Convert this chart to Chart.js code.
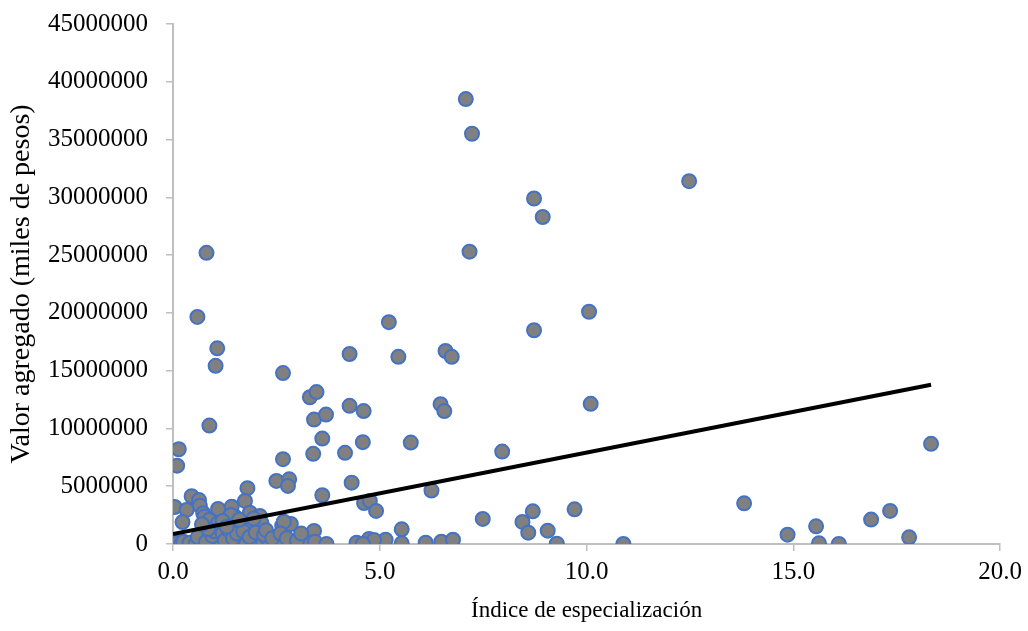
<!DOCTYPE html>
<html>
<head>
<meta charset="utf-8">
<title>Valor agregado vs índice de especialización</title>
<script src="https://cdn.jsdelivr.net/npm/chart.js@4.4.1/dist/chart.umd.min.js"></script>
<style>
  html, body { margin: 0; padding: 0; background: #ffffff; }
  canvas { display: block; }
</style>
</head>
<body>
<canvas id="scatter" width="1028" height="631"></canvas>
<script>
// índice de especialización (x) and valor agregado, miles de pesos (y)
const indice = [
  7.08, 7.23, 12.48, 8.73, 8.94, 7.17, 0.81, 5.22, 10.06, 8.73,
  0.59, 1.07, 1.03, 2.66, 4.27, 5.45, 6.59, 6.74, 4.27, 4.61,
  6.47, 6.56, 10.10, 3.31, 3.47, 3.41, 3.70, 3.61, 4.59, 5.75,
  7.96, 4.16, 3.39, 0.88, 0.14, 0.10, 2.66, 18.33,
  2.50, 2.81, 2.78, 1.80, 4.32, 6.25, 3.61, 4.62, 4.76, 4.91,
  7.49, 8.45, 8.70, 8.59, 9.06, 9.71, 9.28, 10.89, 5.53, 5.53,
  6.11, 6.49, 6.77, 5.14, 4.74, 4.86, 4.44, 4.59, 13.81, 14.86,
  15.55, 15.62, 16.10, 16.88, 17.34, 17.80,
  0.04, 0.45, 0.63, 0.65, 0.33, 0.23, 0.73, 0.76, 1.09, 1.42,
  1.74, 1.86, 2.10, 1.50, 1.40, 0.88, 1.09, 1.59, 1.93, 2.14,
  2.64, 2.85, 3.41, 2.68,
  0.00, 0.17, 0.33, 0.49, 0.69, 0.89, 1.14, 1.29, 1.62, 1.77,
  2.02, 2.18, 2.30, 2.54, 2.95, 3.27, 3.43, 3.71,
  0.05, 0.10, 0.20, 0.25, 0.40, 0.55, 0.60, 0.80, 0.95, 1.00,
  1.20, 1.25, 1.35, 1.45, 1.55, 1.70, 1.85, 2.00, 2.20, 2.25,
  2.40, 2.60, 2.75, 3.00, 3.10, 0.85, 0.70, 1.20, 1.60, 1.95, 1.30
];
const valorAgregado = [
  38500000, 35500000, 31400000, 29900000, 28300000, 25300000, 25200000, 19200000, 20100000, 18500000,
  19650000, 16930000, 15420000, 14790000, 16440000, 16200000, 16700000, 16200000, 11960000, 11500000,
  12100000, 11500000, 12130000, 12700000, 13150000, 10770000, 11200000, 9120000, 8810000, 8780000,
  8000000, 7890000, 7800000, 10250000, 8200000, 6780000, 7340000, 8670000,
  5460000, 5600000, 5030000, 4830000, 5310000, 4620000, 4220000, 3550000, 3730000, 2860000,
  2170000, 1910000, 2830000, 980000, 1150000, 3000000, 30000, 0, 1270000, 60000,
  110000, 200000, 370000, 370000, 430000, 350000, 110000, 0, 3520000, 810000,
  1530000, 60000, 0, 2110000, 2860000, 580000,
  3200000, 4130000, 3800000, 3300000, 2950000, 1900000, 2660000, 2370000, 3030000, 3230000,
  3730000, 2710000, 2430000, 2370000, 2500000, 2080000, 1800000, 1530000, 1500000, 1800000,
  1590000, 1730000, 1130000, 1930000,
  50000, 50000, 50000, 50000, 350000, 50000, 400000, 50000, 60000, 100000,
  200000, 100000, 400000, 200000, 60000, 100000, 200000, 0,
  0, 100000, 0, 200000, 100000, 0, 600000, 200000, 700000, 1100000,
  900000, 300000, 1200000, 500000, 900000, 1100000, 600000, 1000000, 800000, 1200000,
  500000, 900000, 500000, 300000, 900000, 1300000, 1700000, 2000000, 2100000, 2200000, 1500000
];

// linear trend line, read at its two ends
const trendX = [0, 18.33];
const trendY = [870000, 13780000];

const yTicks = [0, 5000000, 10000000, 15000000, 20000000, 25000000, 30000000, 35000000, 40000000, 45000000];
const xTicks = [0, 5, 10, 15, 20];

const serif = "'Liberation Serif', 'Times New Roman', serif";
const axisGrey = '#bfbfbf';

const points = indice.map((x, i) => ({ x: x, y: valorAgregado[i] }));
const trend = trendX.map((x, i) => ({ x: x, y: trendY[i] }));

const ctx = document.getElementById('scatter').getContext('2d');

new Chart(ctx, {
  type: 'scatter',
  data: {
    datasets: [
      {
        type: 'line',
        data: trend,
        borderColor: '#000000',
        borderWidth: 4,
        pointRadius: 0,
        fill: false,
        order: 0,
      },
      {
        data: points,
        backgroundColor: '#808080',
        borderColor: '#4472c4',
        borderWidth: 2,
        pointRadius: 7,
        order: 1,
      },
    ],
  },
  options: {
    responsive: false,
    animation: false,
    devicePixelRatio: 1,
    layout: { padding: { top: 24, right: 27, left: 0, bottom: 0 } },
    plugins: {
      legend: { display: false },
      tooltip: { enabled: false },
    },
    scales: {
      x: {
        type: 'linear',
        min: 0,
        max: 20,
        afterBuildTicks: (scale) => { scale.ticks = xTicks.map(v => ({ value: v })); },
        afterFit: (scale) => { scale.height = 87; },
        border: { color: axisGrey, width: 2 },
        grid: { drawOnChartArea: false, color: axisGrey, tickLength: 7, lineWidth: 1.5 },
        ticks: {
          color: '#000000',
          font: { family: serif, size: 25 },
          padding: 6,
          maxRotation: 0,
          callback: (v) => Number(v).toFixed(1),
        },
        title: {
          display: true,
          text: 'Índice de especialización',
          color: '#000000',
          font: { family: serif, size: 23 },
          padding: { top: 0, bottom: 6 },
        },
      },
      y: {
        type: 'linear',
        min: 0,
        max: 45000000,
        afterBuildTicks: (scale) => { scale.ticks = yTicks.map(v => ({ value: v })); },
        afterFit: (scale) => {
          scale.width = 173;
          scale.paddingTop = 0;
          scale.paddingBottom = 0;
        },
        border: { color: axisGrey, width: 2 },
        grid: { drawOnChartArea: false, color: axisGrey, tickLength: 7, lineWidth: 1.5 },
        ticks: {
          color: '#000000',
          font: { family: serif, size: 25 },
          padding: 18,
          callback: (v) => String(v),
        },
        title: {
          display: true,
          text: 'Valor agregado (miles de pesos)',
          color: '#000000',
          font: { family: serif, size: 28 },
          padding: { top: 5, bottom: 0 },
        },
      },
    },
  },
});
</script>
</body>
</html>
